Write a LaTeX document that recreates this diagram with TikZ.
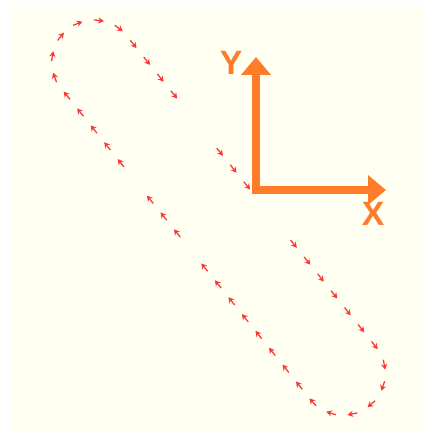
\documentclass[tikz,border=0pt]{standalone}
\usepackage{fontspec}
\setmainfont{Liberation Sans}
\usetikzlibrary{calc, arrows.meta, decorations.markings}

\definecolor{paper}{RGB}{255,255,242}
\definecolor{trailred}{RGB}{250,55,55}
\definecolor{axisorange}{RGB}{255,125,42}

\tikzset{
  trailmark/.style={trailred, line width=0.9pt, -{Stealth[length=4pt,width=4.4pt]}},
  trail/.style={decorate, decoration={markings,
      mark=between positions 0 and 1 step 15.37pt with {\draw[trailmark] (-6,0) -- (4,0);}}},
  axisarrow/.style={axisorange, line width=5.7pt, miter limit=10,
      {Triangle[length=12.8pt,width=20.5pt]}-{Triangle[length=12.8pt,width=20.5pt]}},
  axislabel/.style={axisorange, font=\fontsize{24}{24}\selectfont\bfseries}
}

\begin{document}
\begin{tikzpicture}[x=0.025cm, y=-0.025cm]

% sfondo
\useasboundingbox (0,0) rectangle (425,432);
\fill[paper] (12,5) rectangle (425,432);

% traiettoria (tratti con freccia, percorsa in senso orario)
\path[trail] (294.3,244.7) -- (375.8,346.7)
  arc[start angle=-38.7, end angle=141.3, radius=42] -- (200.2,262.0);
\path[trail] (176.5,232.4) -- (146.4,194.9);
\path[trail] (120.2,162.2) -- (61.2,88.5)
  arc[start angle=141.3, end angle=321.3, radius=42] -- (188.1,112.1);
\path[trail] (220.5,152.7) -- (250.5,190.1);

% assi
\coordinate (O) at (256,190);
\coordinate (Ytip) at (256,57);
\coordinate (Xtip) at (386,190);
\draw[axisarrow] (Ytip) -- (O) -- (Xtip);

% etichette
\node[axislabel] (ylab) at (231,63) {Y};
\node[axislabel] (xlab) at (373,214) {X};

\end{tikzpicture}
\end{document}
